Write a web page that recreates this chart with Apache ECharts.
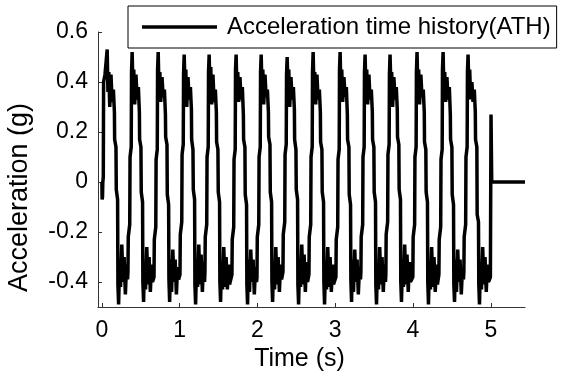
<!DOCTYPE html>
<html><head><meta charset="utf-8">
<script src="https://cdn.jsdelivr.net/npm/echarts@6/dist/echarts.min.js"></script>
<style>html,body{margin:0;padding:0;background:#fff}#c{width:569px;height:377px}</style>
</head><body><div id="c"></div>
<script>
const seriesName = 'Acceleration time history(ATH)';
const xTitle = 'Time (s)';
const yTitle = 'Acceleration (g)';
const xTicks = [0, 1, 2, 3, 4, 5];
const yTicks = [-0.4, -0.2, 0, 0.2, 0.4, 0.6];

const time = [
  0.000, 0.003, 0.008, 0.012, 0.018, 0.022, 0.040,
  0.068, 0.078, 0.089, 0.101, 0.117, 0.132, 0.148, 0.161, 0.164, 0.181, 0.185, 0.202, 0.206, 0.215, 0.227, 0.240, 0.256, 0.271, 0.286, 0.302, 0.317, 0.330,
  0.335, 0.339, 0.358, 0.362, 0.377, 0.381, 0.389, 0.399, 0.410, 0.422, 0.438, 0.453, 0.469, 0.482, 0.485, 0.502, 0.506, 0.523, 0.527, 0.536, 0.548, 0.561, 0.577, 0.592, 0.607, 0.623, 0.638, 0.651,
  0.670, 0.674, 0.693, 0.697, 0.712, 0.716, 0.724, 0.734, 0.745, 0.757, 0.773, 0.788, 0.804, 0.817, 0.820, 0.837, 0.841, 0.858, 0.862, 0.871, 0.883, 0.896, 0.912, 0.927, 0.942, 0.958, 0.973, 0.986,
  1.004, 1.008, 1.027, 1.031, 1.046, 1.050, 1.058, 1.068, 1.079, 1.091, 1.107, 1.122, 1.138, 1.151, 1.154, 1.171, 1.175, 1.192, 1.196, 1.205, 1.217, 1.230, 1.246, 1.261, 1.276, 1.292, 1.307, 1.320,
  1.325, 1.329, 1.348, 1.352, 1.367, 1.371, 1.379, 1.389, 1.400, 1.412, 1.428, 1.443, 1.459, 1.472, 1.475, 1.492, 1.496, 1.513, 1.517, 1.526, 1.538, 1.551, 1.567, 1.582, 1.597, 1.613, 1.628, 1.641,
  1.672, 1.676, 1.695, 1.699, 1.714, 1.718, 1.726, 1.736, 1.747, 1.759, 1.775, 1.790, 1.806, 1.819, 1.822, 1.839, 1.843, 1.860, 1.864, 1.873, 1.885, 1.898, 1.914, 1.929, 1.944, 1.960, 1.975, 1.988,
  1.994, 1.998, 2.017, 2.021, 2.036, 2.040, 2.048, 2.058, 2.069, 2.081, 2.097, 2.112, 2.128, 2.141, 2.144, 2.161, 2.165, 2.182, 2.186, 2.195, 2.207, 2.220, 2.236, 2.251, 2.266, 2.282, 2.297, 2.310,
  2.328, 2.332, 2.351, 2.355, 2.370, 2.374, 2.382, 2.392, 2.403, 2.415, 2.431, 2.446, 2.462, 2.475, 2.478, 2.495, 2.499, 2.516, 2.520, 2.529, 2.541, 2.554, 2.570, 2.585, 2.600, 2.616, 2.631, 2.644,
  2.662, 2.666, 2.685, 2.689, 2.704, 2.708, 2.716, 2.726, 2.737, 2.749, 2.765, 2.780, 2.796, 2.809, 2.812, 2.829, 2.833, 2.850, 2.854, 2.863, 2.875, 2.888, 2.904, 2.919, 2.934, 2.950, 2.965, 2.978,
  3.009, 3.013, 3.032, 3.036, 3.051, 3.055, 3.063, 3.073, 3.084, 3.096, 3.112, 3.127, 3.143, 3.156, 3.159, 3.176, 3.180, 3.197, 3.201, 3.210, 3.222, 3.235, 3.251, 3.266, 3.281, 3.297, 3.312, 3.325,
  3.330, 3.334, 3.353, 3.357, 3.372, 3.376, 3.384, 3.394, 3.405, 3.417, 3.433, 3.448, 3.464, 3.477, 3.480, 3.497, 3.501, 3.518, 3.522, 3.531, 3.543, 3.556, 3.572, 3.587, 3.602, 3.618, 3.633, 3.646,
  3.651, 3.655, 3.674, 3.678, 3.693, 3.697, 3.705, 3.715, 3.726, 3.738, 3.754, 3.769, 3.785, 3.798, 3.801, 3.818, 3.822, 3.839, 3.843, 3.852, 3.864, 3.877, 3.893, 3.908, 3.923, 3.939, 3.954, 3.967,
  3.998, 4.002, 4.021, 4.025, 4.040, 4.044, 4.052, 4.062, 4.073, 4.085, 4.101, 4.116, 4.132, 4.145, 4.148, 4.165, 4.169, 4.186, 4.190, 4.199, 4.211, 4.224, 4.240, 4.255, 4.270, 4.286, 4.301, 4.314,
  4.333, 4.337, 4.356, 4.360, 4.375, 4.379, 4.387, 4.397, 4.408, 4.420, 4.436, 4.451, 4.467, 4.480, 4.483, 4.500, 4.504, 4.521, 4.525, 4.534, 4.546, 4.559, 4.575, 4.590, 4.605, 4.621, 4.636, 4.649,
  4.654, 4.658, 4.677, 4.681, 4.696, 4.700, 4.708, 4.718, 4.729, 4.741, 4.757, 4.772, 4.788, 4.801, 4.804, 4.821, 4.825, 4.842, 4.846, 4.855, 4.867, 4.880, 4.896, 4.911, 4.926, 4.942, 4.957, 4.970,
  4.995, 5.003, 5.012, 5.440
];

const accel = [
  0.00, -0.07, -0.06, 0.00, 0.02, 0.40, 0.43,
  0.53, 0.36, 0.44, 0.30, 0.43, 0.32, 0.37, 0.28, 0.17, 0.14, -0.03, -0.07, -0.41, -0.49, -0.33, -0.42, -0.25, -0.40, -0.30, -0.45, -0.33, -0.39,
  -0.36, -0.22, -0.17, 0.10, 0.14, 0.44, 0.52, 0.38, 0.45, 0.31, 0.43, 0.33, 0.38, 0.28, 0.17, 0.14, -0.04, -0.08, -0.40, -0.48, -0.32, -0.43, -0.26, -0.41, -0.30, -0.44, -0.33, -0.40,
  -0.38, -0.23, -0.18, 0.09, 0.13, 0.45, 0.52, 0.37, 0.44, 0.32, 0.42, 0.34, 0.37, 0.27, 0.18, 0.15, -0.05, -0.09, -0.39, -0.48, -0.31, -0.44, -0.27, -0.40, -0.31, -0.45, -0.34, -0.39,
  -0.37, -0.21, -0.16, 0.11, 0.15, 0.43, 0.51, 0.39, 0.45, 0.30, 0.42, 0.33, 0.38, 0.29, 0.17, 0.13, -0.03, -0.07, -0.41, -0.49, -0.33, -0.42, -0.25, -0.41, -0.29, -0.44, -0.32, -0.40,
  -0.36, -0.22, -0.17, 0.10, 0.14, 0.44, 0.51, 0.38, 0.46, 0.31, 0.43, 0.32, 0.37, 0.28, 0.16, 0.13, -0.04, -0.08, -0.40, -0.48, -0.32, -0.43, -0.26, -0.42, -0.30, -0.43, -0.33, -0.41,
  -0.37, -0.23, -0.18, 0.09, 0.13, 0.45, 0.51, 0.37, 0.44, 0.32, 0.42, 0.33, 0.38, 0.27, 0.17, 0.14, -0.05, -0.09, -0.41, -0.49, -0.31, -0.44, -0.27, -0.40, -0.31, -0.45, -0.34, -0.40,
  -0.38, -0.22, -0.17, 0.10, 0.14, 0.44, 0.51, 0.38, 0.45, 0.31, 0.43, 0.34, 0.37, 0.28, 0.18, 0.15, -0.04, -0.08, -0.40, -0.48, -0.32, -0.43, -0.26, -0.41, -0.30, -0.44, -0.33, -0.39,
  -0.36, -0.21, -0.16, 0.11, 0.15, 0.43, 0.50, 0.39, 0.45, 0.30, 0.42, 0.33, 0.38, 0.29, 0.17, 0.13, -0.03, -0.07, -0.41, -0.49, -0.33, -0.42, -0.25, -0.41, -0.29, -0.44, -0.32, -0.40,
  -0.37, -0.22, -0.17, 0.10, 0.14, 0.44, 0.52, 0.38, 0.44, 0.31, 0.43, 0.33, 0.37, 0.28, 0.16, 0.13, -0.04, -0.08, -0.40, -0.49, -0.32, -0.43, -0.26, -0.42, -0.30, -0.44, -0.33, -0.41,
  -0.38, -0.23, -0.18, 0.09, 0.13, 0.45, 0.52, 0.37, 0.45, 0.32, 0.42, 0.34, 0.38, 0.27, 0.17, 0.14, -0.05, -0.09, -0.39, -0.48, -0.31, -0.44, -0.27, -0.40, -0.31, -0.45, -0.34, -0.39,
  -0.36, -0.22, -0.17, 0.10, 0.14, 0.44, 0.51, 0.38, 0.45, 0.31, 0.43, 0.33, 0.37, 0.28, 0.17, 0.14, -0.04, -0.08, -0.41, -0.49, -0.32, -0.43, -0.26, -0.41, -0.30, -0.44, -0.33, -0.40,
  -0.37, -0.21, -0.16, 0.11, 0.15, 0.43, 0.51, 0.39, 0.44, 0.30, 0.42, 0.33, 0.38, 0.29, 0.18, 0.15, -0.03, -0.07, -0.40, -0.48, -0.33, -0.42, -0.25, -0.41, -0.29, -0.44, -0.32, -0.40,
  -0.38, -0.22, -0.17, 0.10, 0.14, 0.44, 0.52, 0.38, 0.45, 0.31, 0.43, 0.34, 0.37, 0.28, 0.16, 0.13, -0.04, -0.08, -0.40, -0.49, -0.32, -0.43, -0.26, -0.42, -0.30, -0.44, -0.33, -0.41,
  -0.37, -0.23, -0.18, 0.09, 0.13, 0.45, 0.52, 0.37, 0.44, 0.32, 0.42, 0.33, 0.38, 0.27, 0.17, 0.14, -0.05, -0.09, -0.41, -0.48, -0.31, -0.44, -0.27, -0.40, -0.31, -0.45, -0.34, -0.39,
  -0.36, -0.22, -0.17, 0.10, 0.14, 0.44, 0.51, 0.38, 0.45, 0.33, 0.40, 0.32, 0.37, 0.28, 0.17, 0.14, -0.13, -0.16, -0.41, -0.49, -0.32, -0.43, -0.26, -0.41, -0.30, -0.44, -0.33, -0.40,
  -0.38, 0.27, 0.00, 0.00
];

const font = "'Liberation Sans', Arial, sans-serif";
const points = time.map((t, i) => [t, accel[i]]);
const chart = echarts.init(document.getElementById('c'), null, {renderer: 'canvas'});
chart.setOption({
  animation: false,
  backgroundColor: '#fff',
  textStyle: {fontFamily: font, color: '#000'},
  grid: {left: 98, right: 44, top: 32, bottom: 70, containLabel: false, outerBoundsMode: 'none'},
  legend: {
    data: [{name: seriesName, icon: 'rect'}],
    left: 128, top: 6,
    padding: [9, 6, 9, 14],
    borderColor: '#000', borderWidth: 1, backgroundColor: '#fff',
    itemWidth: 75, itemHeight: 3.5,
    itemStyle: {color: '#000'},
    textStyle: {fontFamily: font, fontSize: 24, color: '#000', padding: [0, 0, 0, 5]}
  },
  xAxis: {
    type: 'value', min: -0.05, max: 5.44,
    name: xTitle, nameLocation: 'middle', nameGap: 35,
    nameTextStyle: {fontFamily: font, fontSize: 25, color: '#000', padding: [0, 24, 0, 0]},
    axisLine: {show: true, onZero: false, lineStyle: {color: '#333', width: 1}},
    axisTick: {show: true, inside: true, length: 4, customValues: xTicks, lineStyle: {color: '#333'}},
    axisLabel: {show: true, customValues: xTicks, margin: 12, fontFamily: font, fontSize: 23, color: '#000',
      formatter: v => String(v)},
    splitLine: {show: false}
  },
  yAxis: {
    type: 'value', min: -0.5, max: 0.6,
    name: yTitle, nameLocation: 'middle', nameGap: 65, nameRotate: 90,
    nameTextStyle: {fontFamily: font, fontSize: 27, color: '#000', padding: [0, 56, 0, 0]},
    axisLine: {show: true, onZero: false, lineStyle: {color: '#333', width: 1}},
    axisTick: {show: true, inside: true, length: 4, customValues: yTicks, lineStyle: {color: '#333'}},
    axisLabel: {show: true, customValues: yTicks, margin: 10, fontFamily: font, fontSize: 23, color: '#000',
      formatter: v => String(Math.round(v * 10) / 10)},
    splitLine: {show: false}
  },
  series: [{
    name: seriesName, type: 'line', data: points,
    showSymbol: false, symbol: 'none', sampling: false,
    lineStyle: {color: '#000', width: 3.5},
    itemStyle: {color: '#000'},
    z: 2
  }]
});
</script>
</body></html>
